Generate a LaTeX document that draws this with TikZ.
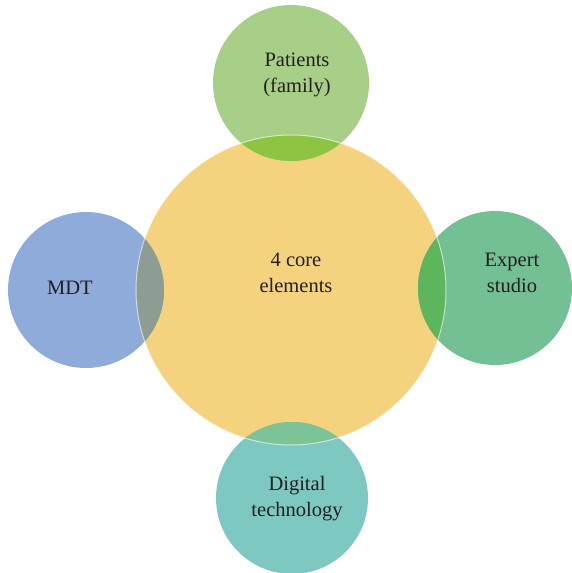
\documentclass[tikz,border=0pt]{standalone}
\usepackage{fontspec}
\setmainfont{Liberation Serif}
\definecolor{coreY}{HTML}{F4D27E}
\definecolor{patG}{HTML}{A7CF87}
\definecolor{patO}{HTML}{8DC542}
\definecolor{mdtB}{HTML}{8FABD9}
\definecolor{mdtO}{HTML}{8E9D93}
\definecolor{expG}{HTML}{74C095}
\definecolor{expO}{HTML}{5DB65B}
\definecolor{digT}{HTML}{7DC8C1}
\definecolor{digO}{HTML}{7CC498}
\definecolor{txt}{HTML}{231F20}
\begin{document}
\begin{tikzpicture}[x=1pt,y=-1pt,
  lbl/.style={font=\fontsize{20.5}{26}\selectfont, text=txt, align=center, inner sep=0pt},
  halo/.style={draw=white, draw opacity=0.6, line width=1pt}]
\useasboundingbox (0,0) rectangle (571,573);
% core circle
\fill[coreY] (291,290) circle (155);
% satellites
\fill[patG] (291,83) circle (78);
\fill[mdtB] (86,290) circle (78);
\fill[expG] (495,288) circle (77);
\fill[digT] (292,498) circle (76);
% overlaps
\begin{scope}
  \clip (291,290) circle (155);
  \fill[patO] (291,83) circle (78);
  \fill[mdtO] (86,290) circle (78);
  \fill[expO] (495,288) circle (77);
  \fill[digO] (292,498) circle (76);
\end{scope}
\draw[halo] (291,290) circle (155);
% labels
\node[lbl] (core) at (296,273) {4 core\\elements};
\node[lbl] (pat) at (297,75) {Patients\\(family)};
\node[lbl] (mdt) at (70,288) {MDT};
\node[lbl] (exp) at (512,273) {Expert\\studio};
\node[lbl] (dig) at (297,499) {Digital\\technology};
\end{tikzpicture}
\end{document}
